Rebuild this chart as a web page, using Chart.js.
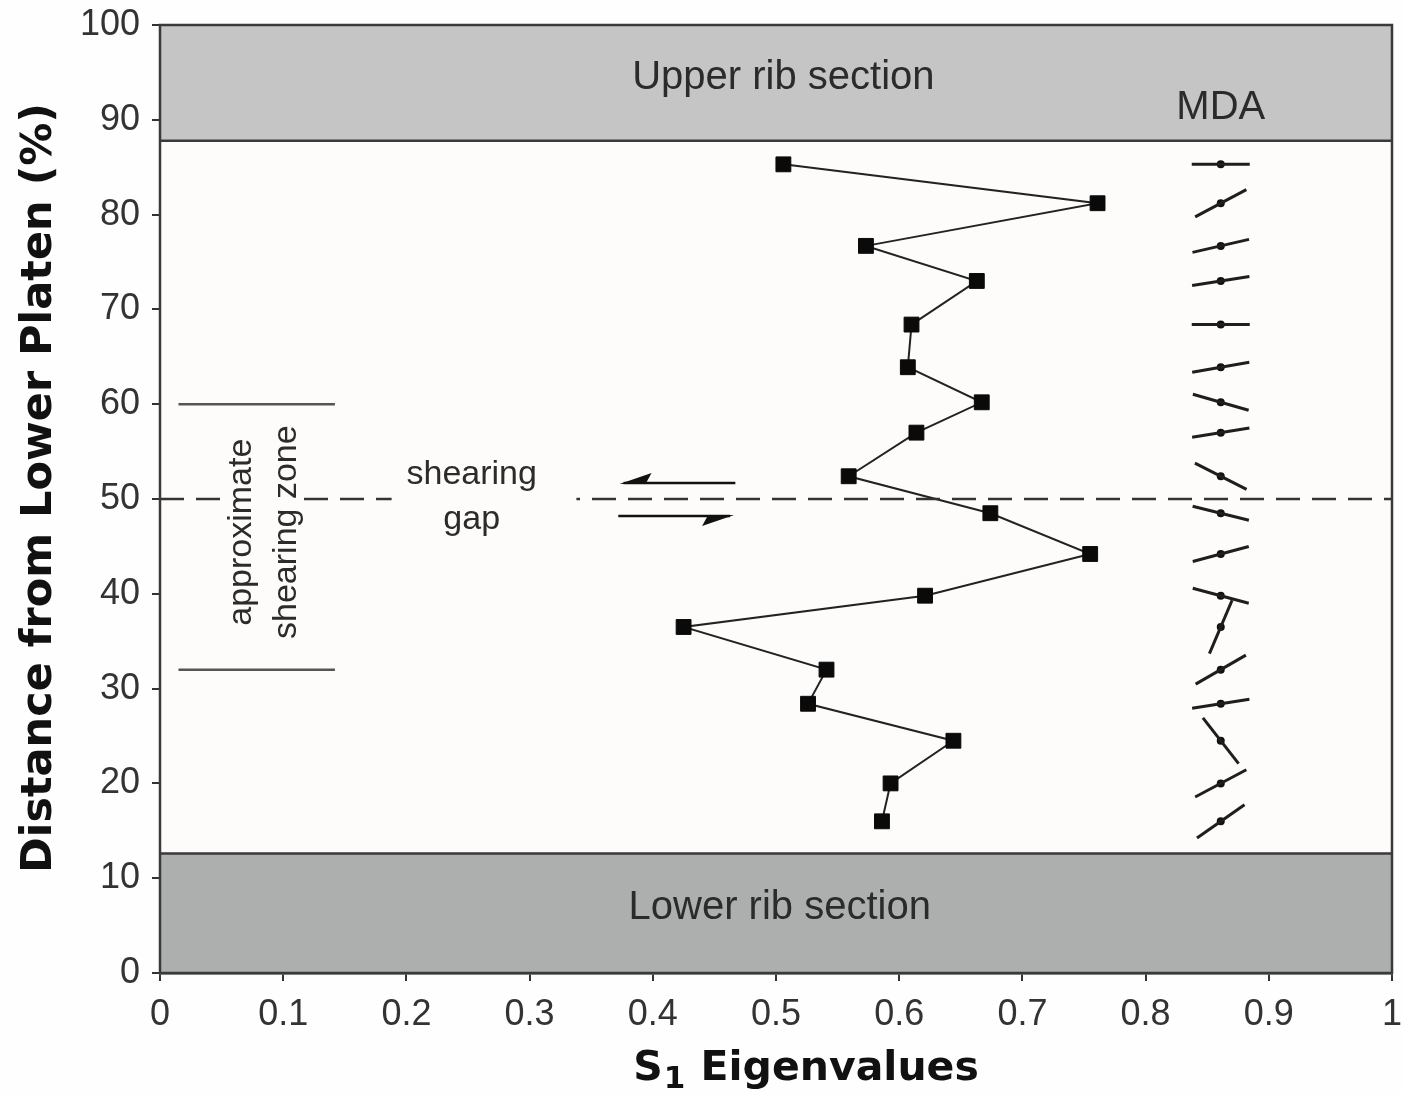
<!DOCTYPE html>
<html>
<head>
<meta charset="utf-8">
<script src="https://cdn.jsdelivr.net/npm/chart.js@4.4.1/dist/chart.umd.min.js"></script>
<style>
  html, body { margin: 0; padding: 0; background: #fefefe; }
  #wrap { width: 1402px; height: 1095px; }
</style>
</head>
<body>
<div id="wrap"><canvas id="chart" width="1402" height="1095"></canvas></div>
<script>
// distance from lower platen (%) of each sample, top to bottom
const distance = [85.3, 81.2, 76.7, 73.0, 68.4, 63.9, 60.2, 57.0, 52.4, 48.5, 44.2, 39.8, 36.5, 32.0, 28.4, 24.5, 20.0, 16.0];
// S1 eigenvalues
const s1Values = [0.506, 0.761, 0.573, 0.663, 0.610, 0.607, 0.667, 0.614, 0.559, 0.674, 0.755, 0.621, 0.425, 0.541, 0.526, 0.644, 0.593, 0.586];
// MDA orientation in degrees (counter-clockwise from horizontal)
const mdaAngles = [0, 28, 13, 9, 0, 10, -16, 9, -27, -14, 15, -15, 67, 30, 9, -52, 28, 35];
const mdaColumn = 0.861;

const xTicks = [0, 0.1, 0.2, 0.3, 0.4, 0.5, 0.6, 0.7, 0.8, 0.9, 1];
const yTicks = [0, 10, 20, 30, 40, 50, 60, 70, 80, 90, 100];

const lowerRib = [0, 12.6];
const upperRib = [87.8, 100];
const shearZone = [32, 60];
const shearZoneX = [0.015, 0.142];
const gapLevel = 50;

const ink = '#2b2b2b';
const labelFont = '"Liberation Sans", Arial, sans-serif';
const titleFont = '"DejaVu Sans", Verdana, sans-serif';

const bgPlugin = {
  id: 'bands',
  beforeDatasetsDraw(chart) {
    const { ctx, chartArea: a, scales: { x, y } } = chart;
    ctx.save();
    ctx.fillStyle = '#fdfcfa';
    ctx.fillRect(a.left, a.top, a.width, a.height);

    const yl0 = y.getPixelForValue(lowerRib[0]), yl1 = y.getPixelForValue(lowerRib[1]);
    ctx.fillStyle = '#adafae';
    ctx.fillRect(a.left, yl1, a.width, yl0 - yl1);
    const yu0 = y.getPixelForValue(upperRib[0]), yu1 = y.getPixelForValue(upperRib[1]);
    ctx.fillStyle = '#c5c5c5';
    ctx.fillRect(a.left, yu1, a.width, yu0 - yu1);

    ctx.strokeStyle = '#3a3a3a';
    ctx.lineWidth = 2.5;
    ctx.beginPath();
    ctx.moveTo(a.left, yl1); ctx.lineTo(a.right, yl1);
    ctx.moveTo(a.left, yu0); ctx.lineTo(a.right, yu0);
    ctx.stroke();

    ctx.fillStyle = ink;
    ctx.textAlign = 'center';
    ctx.textBaseline = 'middle';
    ctx.font = '40px ' + labelFont;
    ctx.fillText('Upper rib section', x.getPixelForValue(0.506), y.getPixelForValue(94.4));
    ctx.fillText('Lower rib section', x.getPixelForValue(0.503), y.getPixelForValue(6.9));
    ctx.restore();
  },
  afterDatasetsDraw(chart) {
    const { ctx, chartArea: a, scales: { x, y } } = chart;
    ctx.save();
    // clear dashed line behind labels
    const yg = y.getPixelForValue(gapLevel);
    ctx.fillStyle = '#fdfcfa';
    ctx.fillRect(x.getPixelForValue(0.056), yg - 5, x.getPixelForValue(0.112) - x.getPixelForValue(0.056), 10);
    ctx.fillRect(x.getPixelForValue(0.188), yg - 5, x.getPixelForValue(0.338) - x.getPixelForValue(0.188), 10);

    ctx.fillStyle = ink;
    ctx.textAlign = 'center';
    ctx.textBaseline = 'middle';
    ctx.font = '40px ' + labelFont;
    ctx.fillText('MDA', x.getPixelForValue(mdaColumn), y.getPixelForValue(91.2));

    ctx.font = '34px ' + labelFont;
    ctx.fillText('shearing', x.getPixelForValue(0.253), y.getPixelForValue(52.6));
    ctx.fillText('gap', x.getPixelForValue(0.253), y.getPixelForValue(47.8));

    const yc = y.getPixelForValue(46.5);
    [['approximate', 0.0666], ['shearing zone', 0.103]].forEach(([t, v]) => {
      ctx.save();
      ctx.translate(x.getPixelForValue(v), yc);
      ctx.rotate(-Math.PI / 2);
      ctx.fillText(t, 0, 0);
      ctx.restore();
    });

    // shear sense half-arrows
    ctx.strokeStyle = '#111';
    ctx.fillStyle = '#111';
    ctx.lineWidth = 2.5;
    const ya = y.getPixelForValue(51.7), yb = y.getPixelForValue(48.2);
    const xa0 = x.getPixelForValue(0.373), xa1 = x.getPixelForValue(0.467);
    const xb0 = x.getPixelForValue(0.372), xb1 = x.getPixelForValue(0.466);
    ctx.beginPath(); ctx.moveTo(xa0 + 4, ya); ctx.lineTo(xa1, ya); ctx.stroke();
    ctx.beginPath(); ctx.moveTo(xa0, ya + 1); ctx.lineTo(xa0 + 32, ya - 10); ctx.lineTo(xa0 + 26, ya + 1); ctx.closePath(); ctx.fill();
    ctx.beginPath(); ctx.moveTo(xb0, yb); ctx.lineTo(xb1 - 4, yb); ctx.stroke();
    ctx.beginPath(); ctx.moveTo(xb1, yb - 1); ctx.lineTo(xb1 - 32, yb + 10); ctx.lineTo(xb1 - 26, yb - 1); ctx.closePath(); ctx.fill();

    // frame
    ctx.strokeStyle = '#3a3a3a';
    ctx.lineWidth = 2.5;
    ctx.strokeRect(a.left, a.top, a.width, a.height);

    // y axis title
    ctx.fillStyle = '#111';
    ctx.font = 'bold 43px ' + titleFont;
    ctx.save();
    ctx.translate(40, 488);
    ctx.rotate(-Math.PI / 2);
    ctx.fillText('Distance from Lower Platen (%)', 0, 0);
    ctx.restore();

    // x axis title with subscript
    const cx = 805;
    const by = 1080;
    ctx.textAlign = 'left';
    ctx.textBaseline = 'alphabetic';
    ctx.font = 'bold 41px ' + titleFont;
    const wS = ctx.measureText('S').width;
    const wE = ctx.measureText(' Eigenvalues').width;
    ctx.font = 'bold 31px ' + titleFont;
    const w1 = ctx.measureText('1').width;
    const sx = cx - (wS + w1 + wE) / 2;
    ctx.font = 'bold 41px ' + titleFont;
    ctx.fillText('S', sx, by);
    ctx.font = 'bold 31px ' + titleFont;
    ctx.fillText('1', sx + wS + 1, by + 8);
    ctx.font = 'bold 41px ' + titleFont;
    ctx.fillText(' Eigenvalues', sx + wS + w1 + 2, by);
    ctx.restore();
  }
};

const mdaPoints = distance.map(d => ({ x: mdaColumn, y: d }));

new Chart(document.getElementById('chart'), {
  type: 'scatter',
  data: {
    datasets: [
      {
        data: [{ x: 0, y: gapLevel }, { x: 1, y: gapLevel }],
        showLine: true, pointRadius: 0, borderColor: '#333', borderWidth: 2.5, borderDash: [24, 12]
      },
      {
        data: [{ x: shearZoneX[0], y: shearZone[1] }, { x: shearZoneX[1], y: shearZone[1] }],
        showLine: true, pointRadius: 0, borderColor: '#555', borderWidth: 2.5
      },
      {
        data: [{ x: shearZoneX[0], y: shearZone[0] }, { x: shearZoneX[1], y: shearZone[0] }],
        showLine: true, pointRadius: 0, borderColor: '#555', borderWidth: 2.5
      },
      {
        label: 'S1',
        data: distance.map((d, i) => ({ x: s1Values[i], y: d })),
        showLine: true,
        borderColor: '#222',
        borderWidth: 2,
        pointStyle: 'rect',
        pointRadius: 10.5,
        pointBorderWidth: 1,
        pointBackgroundColor: '#0a0a0a',
        pointBorderColor: '#0a0a0a'
      },
      {
        label: 'MDA',
        data: mdaPoints,
        pointStyle: 'line',
        pointRadius: 29,
        pointBorderWidth: 3,
        pointBorderColor: '#1e1e1e',
        pointRotation: ctx => -mdaAngles[ctx.dataIndex]
      },
      {
        label: 'MDA centre',
        data: mdaPoints,
        pointStyle: 'circle',
        pointRadius: 4,
        pointBorderWidth: 0,
        pointBackgroundColor: '#111'
      }
    ]
  },
  options: {
    responsive: false,
    animation: false,
    layout: { autoPadding: false, padding: { top: 25, right: 10, left: 0, bottom: 0 } },
    plugins: { legend: { display: false }, tooltip: { enabled: false } },
    scales: {
      x: {
        type: 'linear', min: 0, max: 1,
        afterFit: s => { s.height = 122; s.paddingLeft = 0; s.paddingRight = 0; },
        afterBuildTicks: s => { s.ticks = xTicks.map(v => ({ value: v })); },
        ticks: {
          color: '#333', padding: 12,
          font: { family: labelFont, size: 36 },
          callback: v => String(Number(v.toFixed(1)))
        },
        grid: { drawOnChartArea: false, drawTicks: true, tickLength: 8, color: '#333', lineWidth: 2 },
        border: { display: true, color: '#333', width: 2.5 }
      },
      y: {
        type: 'linear', min: 0, max: 100,
        afterFit: s => { s.width = 160; s.paddingTop = 0; s.paddingBottom = 0; },
        afterBuildTicks: s => { s.ticks = yTicks.map(v => ({ value: v })); },
        ticks: {
          color: '#333', padding: 12,
          font: { family: labelFont, size: 36 }
        },
        grid: { drawOnChartArea: false, drawTicks: true, tickLength: 8, color: '#333', lineWidth: 2 },
        border: { display: true, color: '#333', width: 2.5 }
      }
    }
  },
  plugins: [bgPlugin]
});
</script>
</body>
</html>
